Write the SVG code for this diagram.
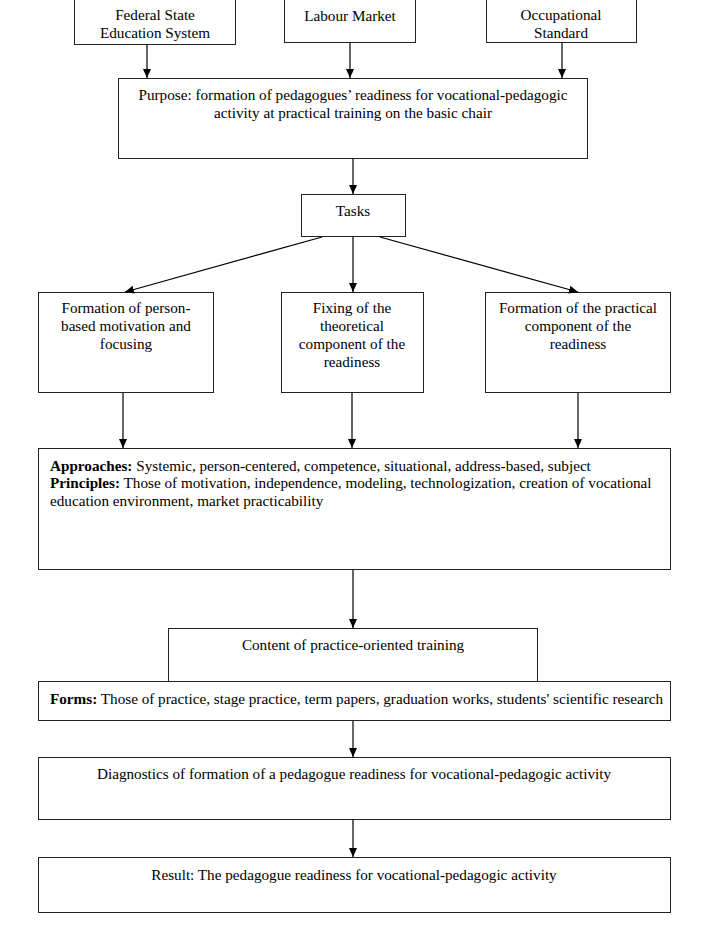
<svg xmlns="http://www.w3.org/2000/svg" width="709" height="930" viewBox="0 0 709 930">
<style>
rect{fill:#fff;stroke:#222;stroke-width:1}
text{font-family:"Liberation Serif","Times New Roman",serif;font-size:15.2px;fill:#000}
.c{text-anchor:middle}
.b{font-weight:bold}
.con line{stroke:#000;stroke-width:1.2}
</style>
<defs>
<marker id="a" markerWidth="10" markerHeight="10" refX="9" refY="5" orient="auto" markerUnits="userSpaceOnUse">
<path d="M0,1 L9,5 L0,9 Z" fill="#000"/>
</marker>
</defs>
<g id="n1"><rect x="74.5" y="-0.5" width="161" height="45"/><text class="c" x="155" y="20">Federal State</text><text class="c" x="155" y="38">Education System</text></g>
<g id="n2"><rect x="284.5" y="-0.5" width="131" height="43"/><text class="c" x="350" y="21">Labour Market</text></g>
<g id="n3"><rect x="486.5" y="-0.5" width="150" height="43"/><text class="c" x="561" y="20">Occupational</text><text class="c" x="561" y="38">Standard</text></g>
<g id="n4"><rect x="118.5" y="78.5" width="469" height="80"/><text class="c" x="353" y="100">Purpose: formation of pedagogues’ readiness for vocational-pedagogic</text><text class="c" x="353" y="118">activity at practical training on the basic chair</text></g>
<g id="n5"><rect x="301.5" y="194.5" width="104" height="42"/><text class="c" x="353" y="216">Tasks</text></g>
<g id="n6"><rect x="38.5" y="292.5" width="175" height="100"/><text class="c" x="126" y="313">Formation of person-</text><text class="c" x="126" y="331">based motivation and</text><text class="c" x="126" y="349">focusing</text></g>
<g id="n7"><rect x="281.5" y="292.5" width="142" height="100"/><text class="c" x="352" y="313">Fixing of the</text><text class="c" x="352" y="331">theoretical</text><text class="c" x="352" y="349">component of the</text><text class="c" x="352" y="367">readiness</text></g>
<g id="n8"><rect x="485.5" y="292.5" width="185" height="100"/><text class="c" x="578" y="313">Formation of the practical</text><text class="c" x="578" y="331">component of the</text><text class="c" x="578" y="349">readiness</text></g>
<g id="n9"><rect x="38.5" y="448.5" width="632" height="121"/><text x="50" y="471"><tspan class="b">Approaches:</tspan> Systemic, person-centered, competence, situational, address-based, subject</text><text x="50" y="488"><tspan class="b">Principles:</tspan> Those of motivation, independence, modeling, technologization, creation of vocational</text><text x="50" y="506">education environment, market practicability</text></g>
<g id="n10"><rect x="168.5" y="628.5" width="369" height="53"/><text class="c" x="353" y="650">Content of practice-oriented training</text></g>
<g id="n11"><rect x="38.5" y="681.5" width="632" height="39"/><text x="50" y="704"><tspan class="b">Forms:</tspan> Those of practice, stage practice, term papers, graduation works, students' scientific research</text></g>
<g id="n12"><rect x="38.5" y="757.5" width="632" height="62"/><text class="c" x="354" y="779">Diagnostics of formation of a pedagogue readiness for vocational-pedagogic activity</text></g>
<g id="n13"><rect x="38.5" y="857.5" width="632" height="55"/><text class="c" x="354" y="880">Result: The pedagogue readiness for vocational-pedagogic activity</text></g>
<g class="con" id="connectors">
<line x1="147" y1="45" x2="147" y2="78" marker-end="url(#a)"/>
<line x1="350" y1="43" x2="350" y2="78" marker-end="url(#a)"/>
<line x1="562" y1="43" x2="562" y2="78" marker-end="url(#a)"/>
<line x1="353" y1="159" x2="353" y2="194" marker-end="url(#a)"/>
<line x1="322" y1="237" x2="125" y2="292" marker-end="url(#a)"/>
<line x1="353" y1="237" x2="353" y2="292" marker-end="url(#a)"/>
<line x1="380" y1="237" x2="578" y2="292" marker-end="url(#a)"/>
<line x1="123" y1="393" x2="123" y2="448" marker-end="url(#a)"/>
<line x1="352" y1="393" x2="352" y2="448" marker-end="url(#a)"/>
<line x1="578" y1="393" x2="578" y2="448" marker-end="url(#a)"/>
<line x1="353" y1="570" x2="353" y2="628" marker-end="url(#a)"/>
<line x1="353" y1="721" x2="353" y2="757" marker-end="url(#a)"/>
<line x1="353" y1="820" x2="353" y2="857" marker-end="url(#a)"/>
</g>
</svg>
